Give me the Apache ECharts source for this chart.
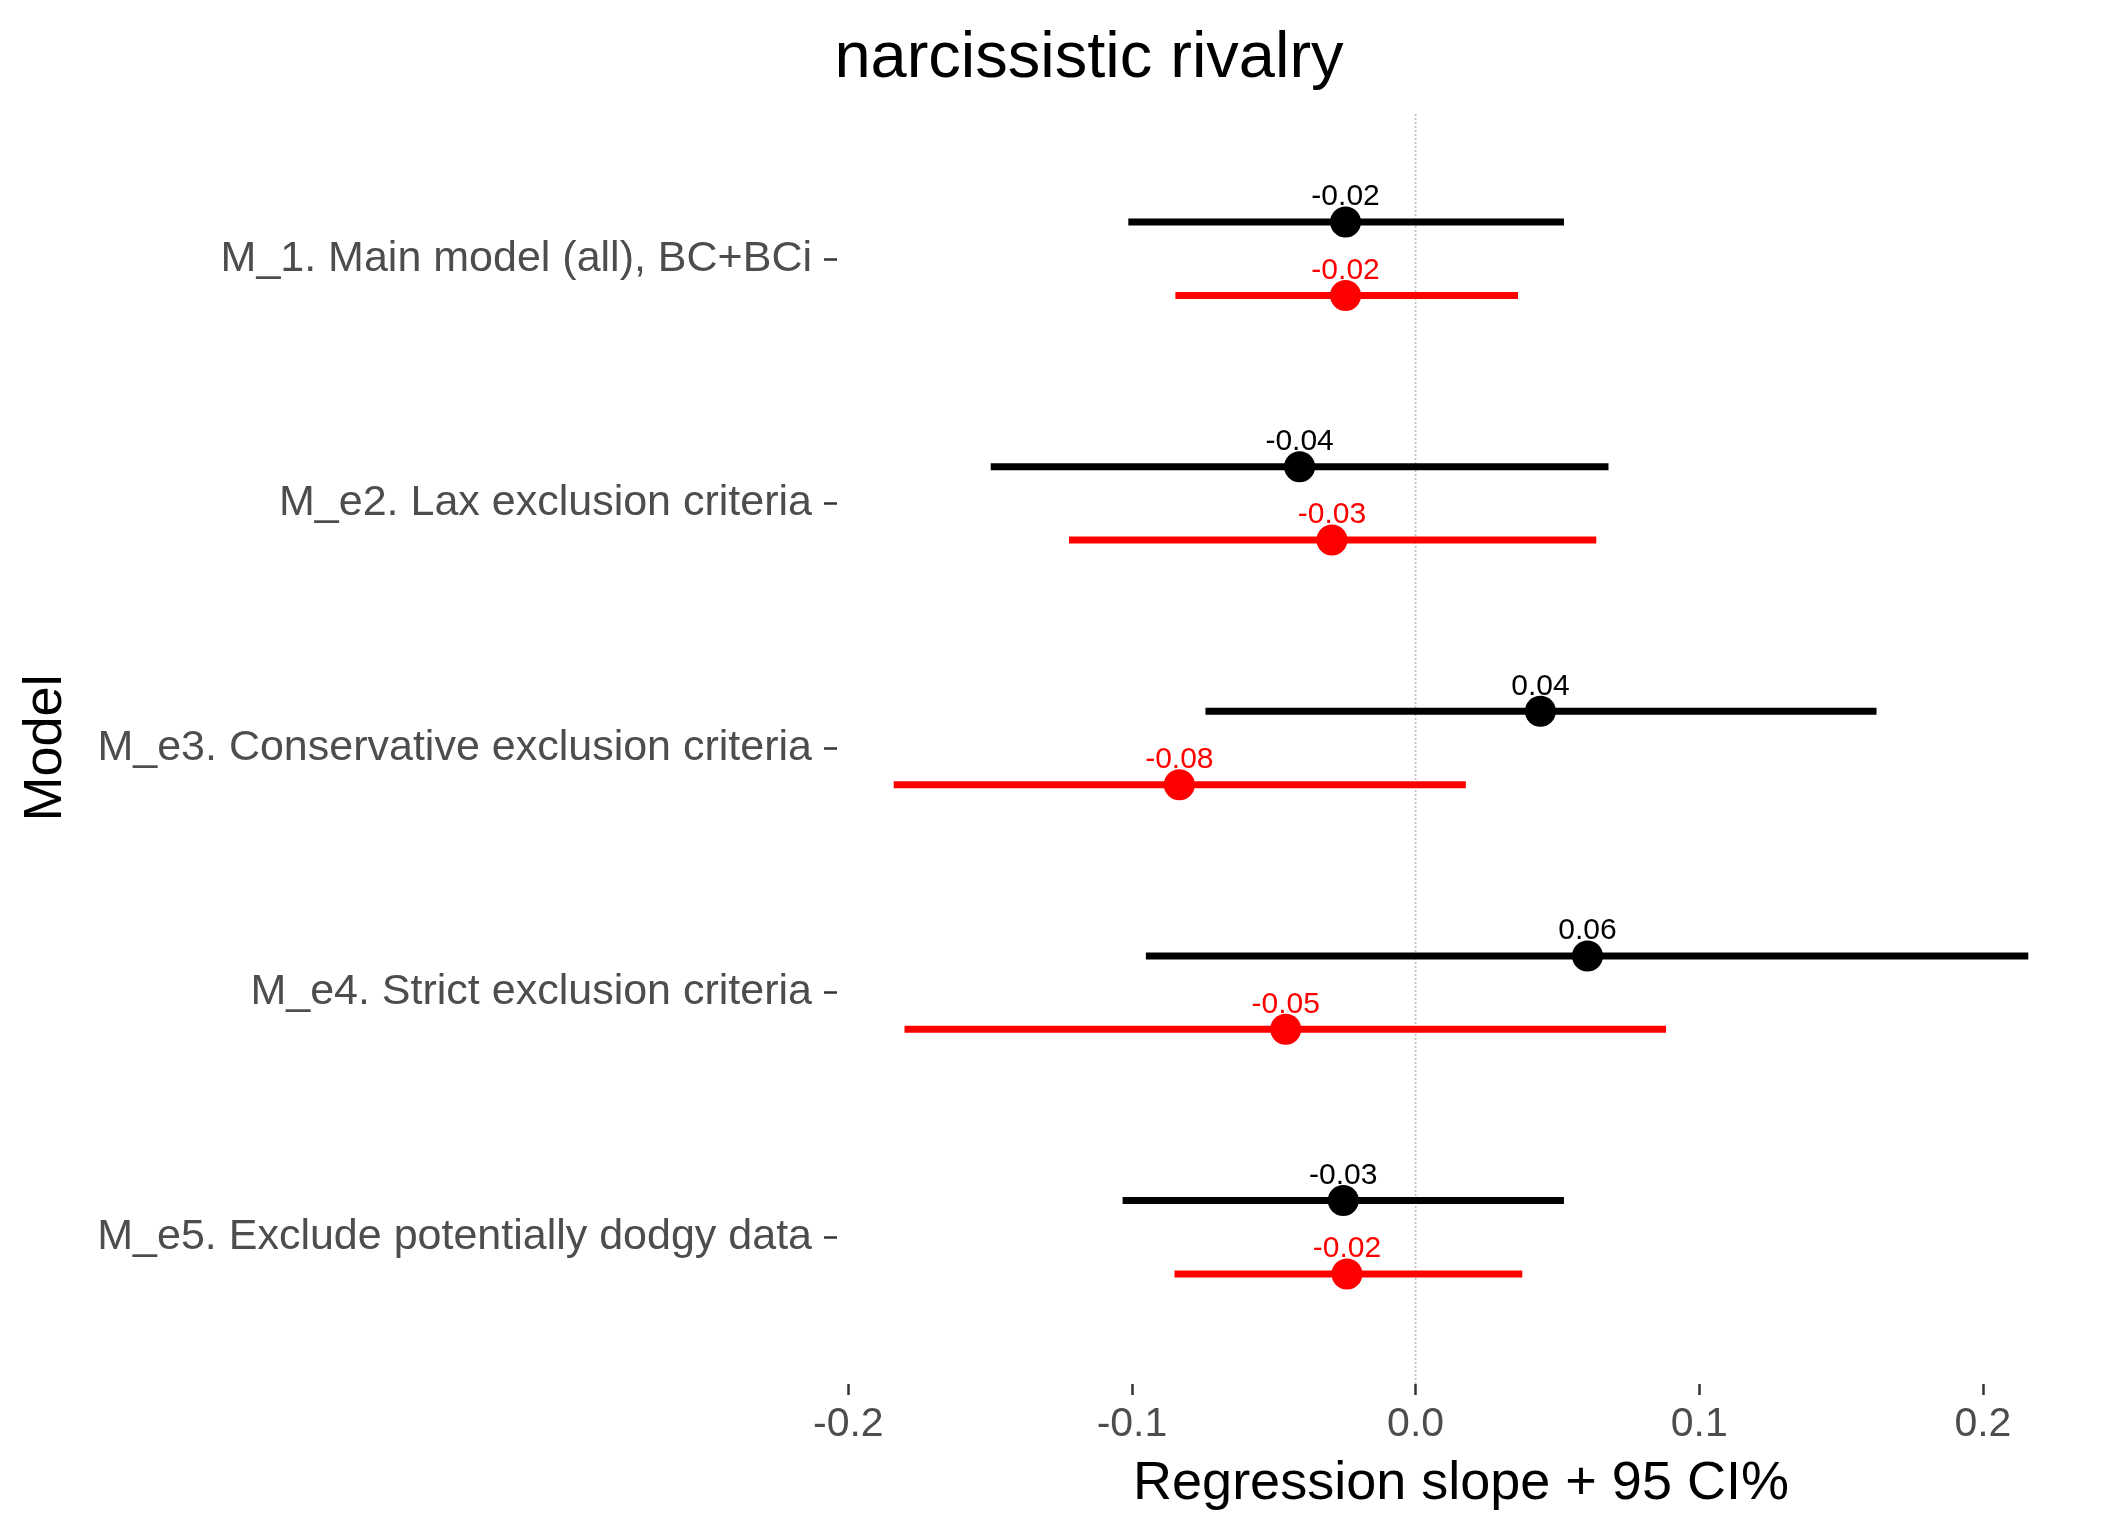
<!DOCTYPE html>
<html>
<head>
<meta charset="utf-8">
<script src="https://cdn.jsdelivr.net/npm/echarts@6/dist/echarts.min.js"></script>
<style>
  html, body { margin: 0; padding: 0; background: #fff; }
  #chart { width: 2112px; height: 1536px; }
</style>
</head>
<body>
<div id="chart"></div>
<script>
// models, top to bottom
var models = [
  'M_1. Main model (all), BC+BCi',
  'M_e2. Lax exclusion criteria',
  'M_e3. Conservative exclusion criteria',
  'M_e4. Strict exclusion criteria',
  'M_e5. Exclude potentially dodgy data'
];

// black estimates + 95% CI
var blackEst = [-0.0247, -0.0409, 0.0440, 0.0606, -0.0255];
var blackLo  = [-0.1013, -0.1498, -0.0741, -0.0951, -0.1033];
var blackHi  = [ 0.0523,  0.0680,  0.1625,  0.2160,  0.0523];

// red estimates + 95% CI
var redEst = [-0.0247, -0.0295, -0.0833, -0.0458, -0.0242];
var redLo  = [-0.0847, -0.1222, -0.1840, -0.1802, -0.0850];
var redHi  = [ 0.0361,  0.0637,  0.0177,  0.0883,  0.0376];

var xTicks = [-0.2, -0.1, 0, 0.1, 0.2];

var FONT = '"Liberation Sans", Arial, Helvetica, sans-serif';
var yMin = 0.4, yMax = 5.6;
var dodge = 0.15;

// position on the y value axis: top model = 5
function yPos(i) { return models.length - i; }

function buildData(est, lo, hi, off) {
  var out = [];
  for (var i = 0; i < est.length; i++) {
    out.push([est[i], yPos(i) + off, lo[i], hi[i]]);
  }
  return out;
}

function makeRender(color) {
  return function(params, api) {
    var y = api.value(1);
    var p = api.coord([api.value(0), y]);
    var a = api.coord([api.value(2), y]);
    var b = api.coord([api.value(3), y]);
    return {
      type: 'group',
      children: [{
        type: 'line',
        shape: { x1: a[0], y1: a[1], x2: b[0], y2: b[1] },
        style: { stroke: color, lineWidth: 7 }
      }, {
        type: 'circle',
        shape: { cx: p[0], cy: p[1], r: 15.5 },
        style: { fill: color }
      }, {
        type: 'text',
        x: p[0],
        y: p[1] - 25,
        style: {
          text: api.value(0).toFixed(2),
          fill: color,
          font: '30px ' + FONT,
          align: 'center',
          verticalAlign: 'middle'
        }
      }]
    };
  };
}

var chart = echarts.init(document.getElementById('chart'));

chart.setOption({
  backgroundColor: '#ffffff',
  animation: false,
  grid: { left: 837, right: 27, top: 112, bottom: 152 },
  xAxis: {
    type: 'value',
    min: -0.204,
    max: 0.236,
    axisLine: { show: false, onZero: false },
    splitLine: { show: false },
    axisTick: {
      show: true,
      customValues: xTicks,
      length: 11,
      lineStyle: { color: '#333333', width: 2.5 }
    },
    axisLabel: {
      customValues: xTicks,
      formatter: function(v) { return Number(v).toFixed(1); },
      fontSize: 41,
      fontFamily: FONT,
      color: '#4d4d4d',
      margin: 20
    }
  },
  yAxis: {
    type: 'value',
    min: yMin,
    max: yMax,
    axisLine: { show: false, onZero: false },
    splitLine: { show: false },
    axisTick: {
      show: true,
      customValues: [1, 2, 3, 4, 5],
      length: 13,
      lineStyle: { color: '#333333', width: 2.5 }
    },
    axisLabel: {
      customValues: [1, 2, 3, 4, 5],
      formatter: function(v) { return models[models.length - Math.round(v)]; },
      fontSize: 43,
      fontFamily: FONT,
      color: '#4d4d4d',
      margin: 25
    }
  },
  graphic: [{
    type: 'text',
    x: 1089,
    y: 59,
    style: {
      text: 'narcissistic rivalry',
      font: '65px ' + FONT,
      fill: '#000',
      align: 'center',
      verticalAlign: 'middle'
    }
  }, {
    type: 'text',
    x: 1461,
    y: 1484,
    style: {
      text: 'Regression slope + 95 CI%',
      font: '54px ' + FONT,
      fill: '#000',
      align: 'center',
      verticalAlign: 'middle'
    }
  }, {
    type: 'text',
    x: 46,
    y: 748,
    rotation: Math.PI / 2,
    style: {
      text: 'Model',
      font: '54px ' + FONT,
      fill: '#000',
      align: 'center',
      verticalAlign: 'middle'
    }
  }],
  series: [{
    name: 'zero',
    type: 'line',
    z: 1,
    silent: true,
    symbol: 'none',
    data: [[0, yMin], [0, yMax]],
    lineStyle: { color: '#bebebe', width: 1.6, type: [2, 2] }
  }, {
    name: 'black',
    type: 'custom',
    z: 3,
    renderItem: makeRender('#000000'),
    data: buildData(blackEst, blackLo, blackHi, dodge)
  }, {
    name: 'red',
    type: 'custom',
    z: 3,
    renderItem: makeRender('#ff0000'),
    data: buildData(redEst, redLo, redHi, -dodge)
  }]
});
</script>
</body>
</html>
